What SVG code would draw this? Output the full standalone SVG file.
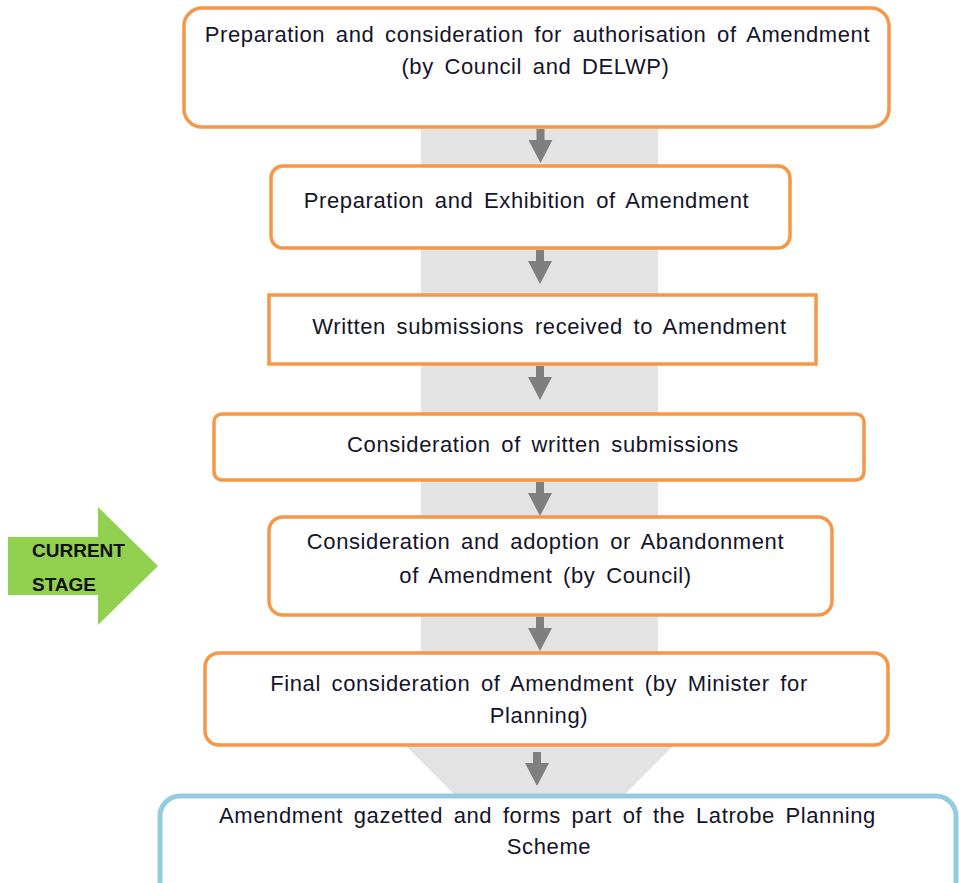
<svg xmlns="http://www.w3.org/2000/svg" width="959" height="883" viewBox="0 0 959 883">
<style>
.box{fill:#fff;stroke:#F79646;stroke-width:3.5}
.blue{fill:#fff;stroke:#93CDDD;stroke-width:5}
.t{font-family:"Liberation Sans",Arial,sans-serif;font-size:22px;letter-spacing:0.6px;word-spacing:4px;fill:#14142a;text-anchor:middle}
.g{font-family:"Liberation Sans",Arial,sans-serif;font-size:19px;font-weight:bold;fill:#111}
.arr{fill:#7F7F7F}
</style>
<defs>
<path id="a" d="M-4,0 H4 V11 H12 L0,34 L-12,11 H-4 Z"/>
</defs>
<rect width="959" height="883" fill="#fff"/>
<polygon id="band" points="421,128 658,128 658,690 729,690 539.5,880 350,690 421,690" fill="#E3E3E3"/>
<g id="connectors" class="arr">
<use href="#a" x="540.5" y="129"/>
<use href="#a" x="540" y="250"/>
<use href="#a" x="540" y="366"/>
<use href="#a" x="540" y="482"/>
<use href="#a" x="540" y="617"/>
<use href="#a" x="537" y="752"/>
</g>
<g id="current-stage">
<polygon points="8,537 98,537 98,507 158,566 98,625 98,595 8,595" fill="#92D050"/>
<text class="g" x="32" y="557">CURRENT</text>
<text class="g" x="32" y="591">STAGE</text>
</g>
<g id="n1"><rect class="box" x="184" y="8" width="705" height="119" rx="18"/>
<text class="t" x="537.5" y="42">Preparation and consideration for authorisation of Amendment</text>
<text class="t" x="535.5" y="74">(by Council and DELWP)</text></g>
<g id="n2"><rect class="box" x="271" y="166" width="519" height="82" rx="12"/>
<text class="t" x="526.5" y="208">Preparation and Exhibition of Amendment</text></g>
<g id="n3"><rect class="box" x="269" y="295" width="547" height="69"/>
<text class="t" x="549.5" y="334">Written submissions received to Amendment</text></g>
<g id="n4"><rect class="box" x="214" y="414" width="650" height="66" rx="8"/>
<text class="t" x="543" y="452">Consideration of written submissions</text></g>
<g id="n5"><rect class="box" x="269" y="517" width="563" height="98" rx="14"/>
<text class="t" x="545.5" y="549">Consideration and adoption or Abandonment</text>
<text class="t" x="545.5" y="583">of Amendment (by Council)</text></g>
<g id="n6"><rect class="box" x="205" y="653" width="683" height="92" rx="14"/>
<text class="t" x="539" y="691">Final consideration of Amendment (by Minister for</text>
<text class="t" x="539" y="723">Planning)</text></g>
<g id="n7"><rect class="blue" x="160" y="796" width="796" height="110" rx="20"/>
<text class="t" x="547.5" y="823">Amendment gazetted and forms part of the Latrobe Planning</text>
<text class="t" x="549" y="854">Scheme</text></g>
</svg>
